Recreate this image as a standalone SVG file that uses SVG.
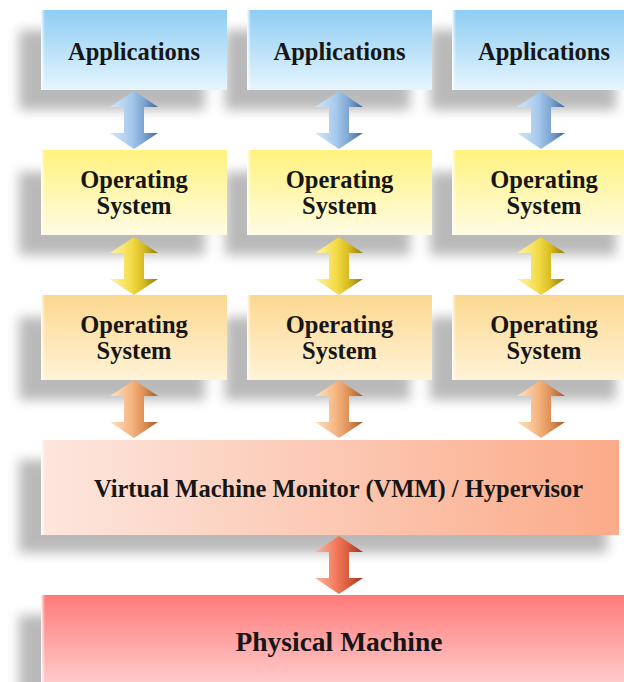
<svg xmlns="http://www.w3.org/2000/svg" width="624" height="682" viewBox="0 0 624 682">
  <defs>
    <filter id="soft" x="-20%" y="-30%" width="140%" height="160%">
      <feGaussianBlur stdDeviation="6"/>
    </filter>
    <linearGradient id="gApp" x1="0" y1="0" x2="0" y2="1">
      <stop offset="0" stop-color="#8ecdf3"/>
      <stop offset="1" stop-color="#e6f5fd"/>
    </linearGradient>
    <linearGradient id="gOs1" x1="0" y1="0" x2="0" y2="1">
      <stop offset="0" stop-color="#fff27e"/>
      <stop offset="1" stop-color="#fffce4"/>
    </linearGradient>
    <linearGradient id="gOs2" x1="0" y1="0" x2="0" y2="1">
      <stop offset="0" stop-color="#fcd88f"/>
      <stop offset="1" stop-color="#fff3d8"/>
    </linearGradient>
    <linearGradient id="gVmm" x1="0" y1="0" x2="1" y2="0">
      <stop offset="0" stop-color="#fde6de"/>
      <stop offset="1" stop-color="#fbab89"/>
    </linearGradient>
    <linearGradient id="gPhy" x1="0" y1="0" x2="0" y2="1">
      <stop offset="0" stop-color="#ff7a7a"/>
      <stop offset="1" stop-color="#ffd6d6"/>
    </linearGradient>
    <linearGradient id="gEdge" x1="0" y1="0" x2="1" y2="0">
      <stop offset="0" stop-color="#ffffff" stop-opacity="0.95"/>
      <stop offset="1" stop-color="#ffffff" stop-opacity="0"/>
    </linearGradient>
    <!-- 3D shading for the double arrows: lit left, dark right -->
    <linearGradient id="aBlue" x1="0" y1="0" x2="1" y2="0">
      <stop offset="0" stop-color="#d4e8f8"/>
      <stop offset="0.45" stop-color="#a4c8ec"/>
      <stop offset="0.7" stop-color="#7ea6d2"/>
      <stop offset="1" stop-color="#3f6898"/>
    </linearGradient>
    <linearGradient id="aYellow" x1="0" y1="0" x2="1" y2="0">
      <stop offset="0" stop-color="#fff4a8"/>
      <stop offset="0.45" stop-color="#f3db45"/>
      <stop offset="0.7" stop-color="#d7bb22"/>
      <stop offset="1" stop-color="#8f7a08"/>
    </linearGradient>
    <linearGradient id="aOrange" x1="0" y1="0" x2="1" y2="0">
      <stop offset="0" stop-color="#fde2c4"/>
      <stop offset="0.45" stop-color="#f5b47e"/>
      <stop offset="0.7" stop-color="#df9058"/>
      <stop offset="1" stop-color="#a55a28"/>
    </linearGradient>
    <linearGradient id="aRed" x1="0" y1="0" x2="1" y2="0">
      <stop offset="0" stop-color="#fcb7a2"/>
      <stop offset="0.45" stop-color="#f1795a"/>
      <stop offset="0.7" stop-color="#d65c3c"/>
      <stop offset="1" stop-color="#97341c"/>
    </linearGradient>
    <path id="dbl" d="M0,0 L24,16 L10,16 L10,42 L24,42 L0,58 L-24,42 L-10,42 L-10,16 L-24,16 Z"/>
  </defs>
  <style>
    .shadow { fill: #8c8c8c; opacity: 0.6; filter: url(#soft); }
    .edge { fill: url(#gEdge); }
    .lbl { font-family: "Liberation Serif", "Times New Roman", serif; font-weight: bold; font-size: 24.5px; fill: #161616; text-anchor: middle; }
    .big { font-size: 27.5px; }
  </style>

  <rect width="624" height="682" fill="#ffffff"/>

  <!-- drop shadows -->
  <g id="shadows">
    <rect class="shadow" x="19" y="30" width="186" height="80"/>
    <rect class="shadow" x="225" y="30" width="185" height="80"/>
    <rect class="shadow" x="430" y="30" width="186" height="80"/>
    <rect class="shadow" x="19" y="172" width="186" height="83"/>
    <rect class="shadow" x="225" y="172" width="185" height="83"/>
    <rect class="shadow" x="430" y="172" width="186" height="83"/>
    <rect class="shadow" x="19" y="317" width="186" height="83"/>
    <rect class="shadow" x="225" y="317" width="185" height="83"/>
    <rect class="shadow" x="430" y="317" width="186" height="83"/>
    <rect class="shadow" x="19" y="460" width="588" height="93"/>
    <rect class="shadow" x="19" y="615" width="600" height="90"/>
  </g>

  <g id="app1">
    <rect x="41" y="10" width="186" height="80" fill="url(#gApp)"/>
    <rect class="edge" x="41" y="10" width="4" height="80"/>
    <text class="lbl" x="134" y="60">Applications</text>
  </g>
  <g id="app2">
    <rect x="247" y="10" width="185" height="80" fill="url(#gApp)"/>
    <rect class="edge" x="247" y="10" width="4" height="80"/>
    <text class="lbl" x="339.5" y="60">Applications</text>
  </g>
  <g id="app3">
    <rect x="452" y="10" width="186" height="80" fill="url(#gApp)"/>
    <rect class="edge" x="452" y="10" width="4" height="80"/>
    <text class="lbl" x="544" y="60">Applications</text>
  </g>

  <g id="guestos1">
    <rect x="41" y="150" width="186" height="85" fill="url(#gOs1)"/>
    <rect class="edge" x="41" y="150" width="4" height="85"/>
    <text class="lbl" x="134" y="188">Operating</text>
    <text class="lbl" x="134" y="214">System</text>
  </g>
  <g id="guestos2">
    <rect x="247" y="150" width="185" height="85" fill="url(#gOs1)"/>
    <rect class="edge" x="247" y="150" width="4" height="85"/>
    <text class="lbl" x="339.5" y="188">Operating</text>
    <text class="lbl" x="339.5" y="214">System</text>
  </g>
  <g id="guestos3">
    <rect x="452" y="150" width="186" height="85" fill="url(#gOs1)"/>
    <rect class="edge" x="452" y="150" width="4" height="85"/>
    <text class="lbl" x="544" y="188">Operating</text>
    <text class="lbl" x="544" y="214">System</text>
  </g>

  <g id="os1">
    <rect x="41" y="295" width="186" height="85" fill="url(#gOs2)"/>
    <rect class="edge" x="41" y="295" width="4" height="85"/>
    <text class="lbl" x="134" y="333">Operating</text>
    <text class="lbl" x="134" y="359">System</text>
  </g>
  <g id="os2">
    <rect x="247" y="295" width="185" height="85" fill="url(#gOs2)"/>
    <rect class="edge" x="247" y="295" width="4" height="85"/>
    <text class="lbl" x="339.5" y="333">Operating</text>
    <text class="lbl" x="339.5" y="359">System</text>
  </g>
  <g id="os3">
    <rect x="452" y="295" width="186" height="85" fill="url(#gOs2)"/>
    <rect class="edge" x="452" y="295" width="4" height="85"/>
    <text class="lbl" x="544" y="333">Operating</text>
    <text class="lbl" x="544" y="359">System</text>
  </g>

  <g id="vmm">
    <rect x="41" y="440" width="578" height="95" fill="url(#gVmm)"/>
    <rect class="edge" x="41" y="440" width="4" height="95"/>
    <text class="lbl" x="338.5" y="497">Virtual Machine Monitor (VMM) / Hypervisor</text>
  </g>

  <g id="physical">
    <rect x="41" y="595" width="600" height="100" fill="url(#gPhy)"/>
    <rect class="edge" x="41" y="595" width="4" height="100"/>
    <text class="lbl big" x="339" y="651">Physical Machine</text>
  </g>

  <!-- double-headed connectors between layers -->
  <g id="connectors">
    <use href="#dbl" x="134" y="91" fill="url(#aBlue)"/>
    <use href="#dbl" x="339" y="91" fill="url(#aBlue)"/>
    <use href="#dbl" x="541" y="91" fill="url(#aBlue)"/>
    <use href="#dbl" x="134" y="237" fill="url(#aYellow)"/>
    <use href="#dbl" x="339" y="237" fill="url(#aYellow)"/>
    <use href="#dbl" x="541" y="237" fill="url(#aYellow)"/>
    <use href="#dbl" x="134" y="380" fill="url(#aOrange)"/>
    <use href="#dbl" x="339" y="380" fill="url(#aOrange)"/>
    <use href="#dbl" x="541" y="380" fill="url(#aOrange)"/>
    <use href="#dbl" x="339" y="536" fill="url(#aRed)"/>
  </g>
</svg>
